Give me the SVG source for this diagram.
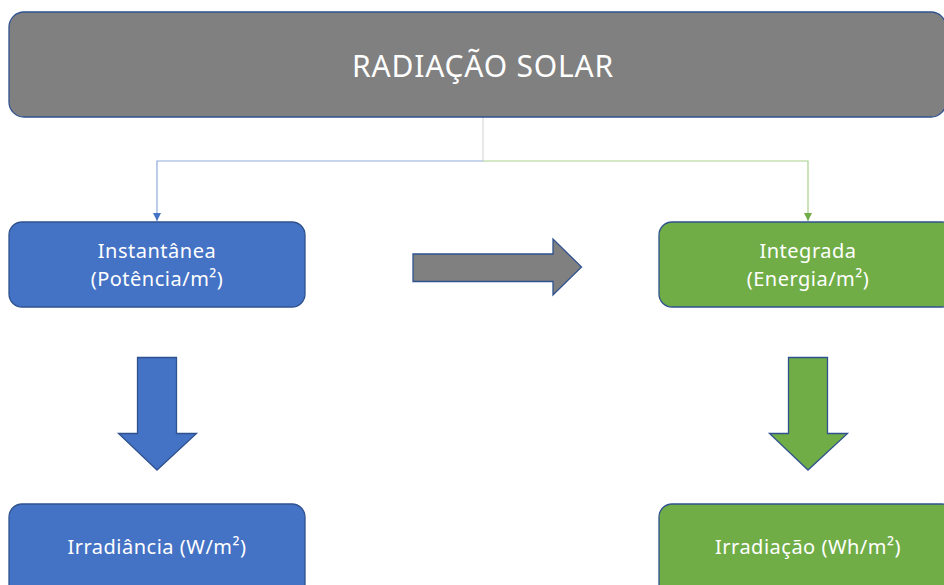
<svg xmlns="http://www.w3.org/2000/svg" width="944" height="585" viewBox="0 0 944 585">
  <style>
    .box { stroke: #2F528F; stroke-width: 1.3; }
    .gray { fill: #808080; }
    .blue { fill: #4472C4; }
    .green { fill: #70AD47; }
    .label { fill: #FFFFFF; font-family: "Noto Sans", "Open Sans", "Liberation Sans", sans-serif; text-anchor: middle; }
    .small { font-size: 20px; letter-spacing: 0.5px; }
    .big { font-size: 30px; letter-spacing: 0.8px; }
    .line { fill: none; stroke-width: 1.2; }
  </style>
  <defs>
    <marker id="headBlue" viewBox="0 0 10 10" refX="10" refY="5" markerWidth="8" markerHeight="8" markerUnits="userSpaceOnUse" orient="auto">
      <path d="M0,0 L10,5 L0,10 z" fill="#4472C4"/>
    </marker>
    <marker id="headGreen" viewBox="0 0 10 10" refX="10" refY="5" markerWidth="8" markerHeight="8" markerUnits="userSpaceOnUse" orient="auto">
      <path d="M0,0 L10,5 L0,10 z" fill="#70AD47"/>
    </marker>
  </defs>

  <rect width="944" height="585" fill="#FFFFFF"/>

  <!-- connectors -->
  <g id="connectors">
    <path class="line" d="M483,117 V161" stroke="#D9D9D9"/>
    <path class="line" d="M483,161 H157 V221" stroke="#8FAADC" marker-end="url(#headBlue)"/>
    <path class="line" d="M483,161 H808 V221" stroke="#A9D18E" marker-end="url(#headGreen)"/>
  </g>

  <g id="radiacao-solar">
    <rect class="box gray" x="9" y="12" width="937" height="105" rx="15"/>
    <text class="label big" x="483" y="77">RADIAÇÃO SOLAR</text>
  </g>

  <g id="instantanea">
    <rect class="box blue" x="9" y="222" width="296" height="85" rx="13"/>
    <text class="label small" x="157" y="258">Instantânea</text>
    <text class="label small" x="157" y="286">(Potência/m²)</text>
  </g>

  <g id="integrada">
    <rect class="box green" x="659" y="222" width="296" height="85" rx="13"/>
    <text class="label small" x="808" y="258">Integrada</text>
    <text class="label small" x="808" y="286">(Energia/m²)</text>
  </g>

  <g id="seta-direita">
    <path class="box gray" d="M413,254 H553 V239 L581.5,267 L553,295 V281.5 H413 Z"/>
  </g>

  <g id="seta-azul">
    <path class="box blue" d="M137.5,357.5 H176.5 V433.5 H196.5 L157,470 L118.5,433.5 H137.5 Z"/>
  </g>

  <g id="seta-verde">
    <path class="box green" d="M788.5,357.5 H827.5 V433.5 H847.5 L808,470 L769.5,433.5 H788.5 Z"/>
  </g>

  <g id="irradiancia">
    <rect class="box blue" x="9" y="504" width="296" height="95" rx="13"/>
    <text class="label small" x="157" y="554">Irradiância (W/m²)</text>
  </g>

  <g id="irradiacao">
    <rect class="box green" x="659" y="504" width="296" height="95" rx="13"/>
    <text class="label small" x="808" y="554">Irradiação (Wh/m²)</text>
  </g>
</svg>
